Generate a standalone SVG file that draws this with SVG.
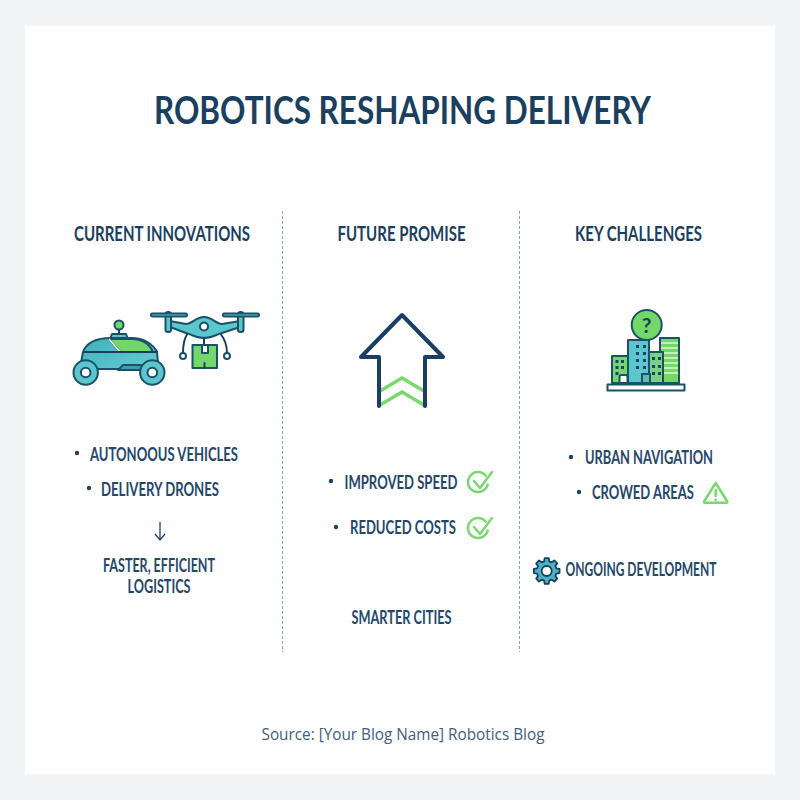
<svg xmlns="http://www.w3.org/2000/svg" width="800" height="800" viewBox="0 0 800 800">
<defs>
<linearGradient id="body" x1="0" y1="0" x2="1" y2="1"><stop offset="0" stop-color="#3fb0bd"/><stop offset="1" stop-color="#67ccd2"/></linearGradient>
</defs>
<style>
.t{font-family:"Lato","Open Sans","Liberation Sans",sans-serif;fill:#1c4260}
.h{font-size:21px;font-weight:700;fill:#1b3f5e}
.b{font-size:18.500px;font-weight:700;fill:#24486a}
.n{fill:none;stroke:#17405f;stroke-width:2;stroke-linejoin:round;stroke-linecap:round}
.s{stroke:#1a5068;stroke-width:2;stroke-linejoin:round;stroke-linecap:round}
.g{fill:#74d868}.c{fill:#5cc6cf}
.gl{fill:none;stroke:#7ad96e;stroke-width:2.500;stroke-linecap:round;stroke-linejoin:round}
.d{fill:#1c4260}
</style>
<rect width="800" height="800" fill="#f2f4f6"/>
<rect x="25" y="26" width="750" height="748" fill="#fefefe"/>
<text id="title" class="t" x="402.500" y="124" text-anchor="middle" font-size="39" style="font-weight:700;fill:#1a3f5f" textLength="497" lengthAdjust="spacingAndGlyphs">ROBOTICS RESHAPING DELIVERY</text>
<g id="dividers" fill="none" stroke="#8aa6c6" stroke-width="1" stroke-dasharray="3 2">
<path d="M282.500 211V652"/><path d="M519.500 211V652"/>
</g>
<g id="col1">
<text class="t h" x="162" y="240.500" text-anchor="middle" textLength="176" lengthAdjust="spacingAndGlyphs">CURRENT INNOVATIONS</text>
<g id="car">
<path class="n" d="M119 328v6"/>
<circle class="s g" cx="119" cy="325" r="4.500"/>
<path class="s c" d="M110 339l2-5h14l2 5z"/>
<path d="M83 352c3-8 12-14 28-14h20c13 0 22 6 26 14l1 11-4 6H84l-3-6z" class="s" fill="url(#body)"/>
<path class="s g" d="M109 339h22c10 0 18 4 22 13h-33z"/>
<path d="M109 339l11 13h34" fill="none" stroke="#fff" stroke-width="1.500"/>
<path class="n" d="M84 352h73"/>
<path class="s" fill="#3a9fb0" d="M118 370l5-5h18l5 5z"/>
<circle class="s c" cx="85.700" cy="372.500" r="12.200"/><circle class="s" fill="#fff" cx="85.700" cy="372.500" r="4.800"/>
<circle class="s c" cx="152.300" cy="372.500" r="12.200"/><circle class="s" fill="#fff" cx="152.300" cy="372.500" r="4.800"/>
</g>
<g id="drone">
<path class="n" d="M188 333c-4 5-5 12-5 20M220 333c4 5 7 12 7 20"/>
<circle class="s" fill="#fff" cx="183" cy="356" r="3"/><circle class="s" fill="#fff" cx="227" cy="356" r="3"/>
<path class="s c" d="M170 321l16 3c6 0 10-7 18-7s12 7 18 7l18-3v6l-18 6c-5 1-9 5-18 5s-13-4-18-5l-16-6z"/>
<circle class="s" fill="#fff" cx="204" cy="326.500" r="4"/>
<rect class="s c" x="165.500" y="312" width="5.500" height="20" rx="2.500"/><rect class="s c" x="238" y="312" width="5.500" height="20" rx="2.500"/>
<rect class="s c" x="151" y="313.500" width="36" height="3" rx="1.500"/><rect class="s c" x="223" y="313.500" width="36" height="3" rx="1.500"/>
<path class="n" d="M204 338v7"/>
<rect class="s g" x="192.500" y="345" width="24.500" height="23"/>
<path class="s" fill="#fff" d="M202 345h6v8h-6z"/>
<path class="n" d="M204.500 368v-5"/>
</g>
<circle class="d" cx="77" cy="453" r="2.200"/>
<text class="t b" x="164" y="461" text-anchor="middle" textLength="148" lengthAdjust="spacingAndGlyphs">AUTONOOUS VEHICLES</text>
<circle class="d" cx="89" cy="488" r="2.200"/>
<text class="t b" x="160" y="496" text-anchor="middle" textLength="118" lengthAdjust="spacingAndGlyphs">DELIVERY DRONES</text>
<path d="M160 522v18M155 534l5 6 5-6" fill="none" stroke="#24486a" stroke-width="1.300"/>
<text class="t b" x="159" y="572" text-anchor="middle" textLength="112" lengthAdjust="spacingAndGlyphs">FASTER, EFFICIENT</text>
<text class="t b" x="159" y="593" text-anchor="middle" textLength="63" lengthAdjust="spacingAndGlyphs">LOGISTICS</text>
</g>
<g id="col2">
<text class="t h" x="401.500" y="240.500" text-anchor="middle" textLength="128" lengthAdjust="spacingAndGlyphs">FUTURE PROMISE</text>
<g id="arrow">
<path d="M380 391l22-13 22 13M380 405l22-13 22 13" fill="none" stroke="#79d96d" stroke-width="3.500"/>
<path d="M379 406V357H361L402 315 443 357H425V406" fill="none" stroke="#1a3f62" stroke-width="4" stroke-linejoin="round" stroke-linecap="round"/>
</g>
<circle class="d" cx="331" cy="481" r="2.200"/>
<text class="t b" x="401" y="489" text-anchor="middle" textLength="113" lengthAdjust="spacingAndGlyphs">IMPROVED SPEED</text>
<g id="check1"><path class="gl" d="M485.700 475.600A10 10 0 1 0 487.700 484.600"/><path class="gl" d="M474 481l6 7 12-16"/></g>
<circle class="d" cx="336" cy="527" r="2.200"/>
<text class="t b" x="403" y="534" text-anchor="middle" textLength="106" lengthAdjust="spacingAndGlyphs">REDUCED COSTS</text>
<g id="check2"><path class="gl" d="M485.700 521.600A10 10 0 1 0 487.700 530.600"/><path class="gl" d="M474 527l6 7 12-16"/></g>
<text class="t b" x="401.500" y="624" text-anchor="middle" textLength="100" lengthAdjust="spacingAndGlyphs">SMARTER CITIES</text>
</g>
<g id="col3">
<text class="t h" x="638.500" y="240.500" text-anchor="middle" textLength="127" lengthAdjust="spacingAndGlyphs">KEY CHALLENGES</text>
<g id="city">
<rect class="s g" x="660" y="338" width="19" height="45"/>
<path d="M661 343h17M661 348h17M661 353h17M661 358h17M661 363h17M661 368h17M661 373h17" stroke="#dff5d8" stroke-width="1.500"/>
<rect class="s g" x="612" y="356" width="21" height="27"/>
<rect class="s" fill="#7ccf88" x="649" y="352" width="14" height="31"/>
<rect class="s c" x="628" y="340" width="21" height="43"/>
<g fill="#1c4260">
<rect x="615.500" y="360" width="3" height="3"/><rect x="621" y="360" width="3" height="3"/>
<rect x="615.500" y="366" width="3" height="3"/><rect x="621" y="366" width="3" height="3"/>
<rect x="615.500" y="372" width="3" height="3"/>
<rect x="636" y="345" width="3" height="3"/><rect x="643" y="345" width="3" height="3"/><rect x="636" y="352" width="3" height="3"/><rect x="643" y="352" width="3" height="3"/><rect x="636" y="359" width="3" height="3"/><rect x="643" y="359" width="3" height="3"/><rect x="636" y="366" width="3" height="3"/><rect x="643" y="366" width="3" height="3"/>
<rect x="652" y="357" width="3" height="3"/><rect x="658" y="357" width="3" height="3"/><rect x="652" y="365" width="3" height="3"/><rect x="658" y="365" width="3" height="3"/><rect x="652" y="372" width="3" height="3"/><rect x="658" y="372" width="3" height="3"/>
</g>
<path class="s" fill="#fff" d="M619.500 383v-6a2 2 0 0 1 2-2h4a2 2 0 0 1 2 2v6z"/>
<rect class="s" fill="#5cc0b0" x="642" y="374" width="8" height="9"/>
<rect class="s" fill="#fff" x="607.500" y="384.500" width="77" height="6"/>
<circle class="s g" cx="646.700" cy="325" r="15"/>
<text x="646.700" y="332.500" text-anchor="middle" font-size="21" style="font-family:'Lato','Liberation Sans',sans-serif;font-weight:700" fill="#17405f">?</text>
</g>
<circle class="d" cx="571" cy="457" r="2.200"/>
<text class="t b" x="649" y="464" text-anchor="middle" textLength="128" lengthAdjust="spacingAndGlyphs">URBAN NAVIGATION</text>
<circle class="d" cx="579" cy="492" r="2.200"/>
<text class="t b" x="643" y="499" text-anchor="middle" textLength="102" lengthAdjust="spacingAndGlyphs">CROWED AREAS</text>
<g id="warning"><path class="gl" d="M715.700 483l11.300 18a1 1 0 0 1-1 1.700h-20.600a1 1 0 0 1-1-1.700z"/><path class="gl" d="M715.700 490v6M715.700 499.500v.5"/></g>
<g id="gear" transform="translate(546.700 571)">
<path fill="#4fb0c0" stroke="#17405f" stroke-width="1.800" stroke-linejoin="round" d="M9.660-2.590L12.840-2.030 12.840 2.030 9.660 2.590 8.660 5 10.520 7.640 7.640 10.520 5 8.660 2.590 9.660 2.030 12.840-2.030 12.840-2.590 9.660-5 8.660-7.640 10.520-10.520 7.640-8.660 5-9.660 2.590-12.840 2.030-12.840-2.030-9.660-2.590-8.660-5-10.520-7.640-7.640-10.520-5-8.660-2.590-9.660-2.030-12.840 2.030-12.840 2.590-9.660 5-8.660 7.640-10.520 10.520-7.640 8.660-5z"/>
<circle r="5" fill="#fff" stroke="#17405f" stroke-width="1.800"/>
</g>
<text class="t b" x="641" y="576" text-anchor="middle" textLength="151" lengthAdjust="spacingAndGlyphs">ONGOING DEVELOPMENT</text>
</g>
<text id="source" x="403" y="740" text-anchor="middle" font-size="15.500" style="font-family:'Open Sans','Noto Sans',sans-serif" fill="#3f5f7c" textLength="283" lengthAdjust="spacingAndGlyphs">Source: [Your Blog Name] Robotics Blog</text>
</svg>
